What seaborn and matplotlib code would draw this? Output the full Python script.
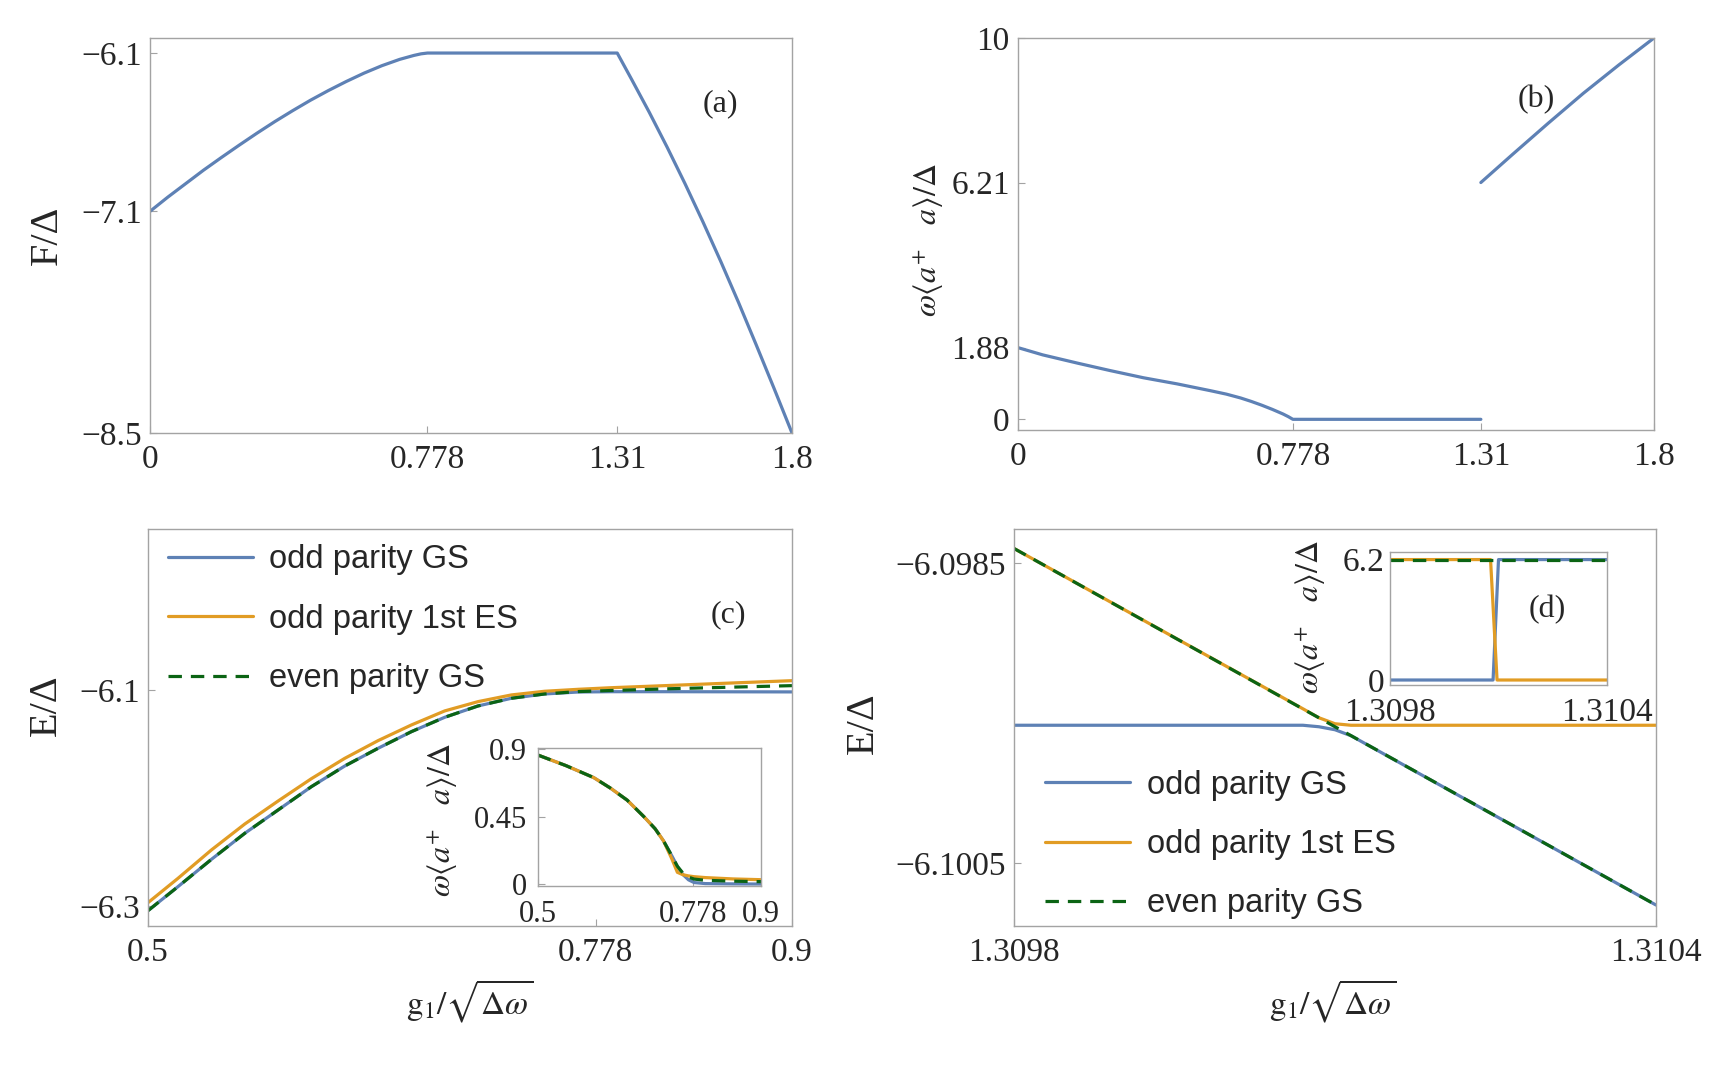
import matplotlib
matplotlib.use("Agg")
import matplotlib.pyplot as plt
import seaborn as sns

# ---- data ----
# (a) free energy
a_x = [0, 0.05, 0.1, 0.15, 0.2, 0.25, 0.3, 0.35, 0.4, 0.45, 0.5, 0.55, 0.6, 0.65, 0.7, 0.74, 0.76, 0.778,
       1.0, 1.31, 1.35, 1.4, 1.45, 1.5, 1.55, 1.6, 1.65, 1.7, 1.75, 1.8]
a_y = [-7.1, -7.01, -6.925, -6.84, -6.76, -6.682, -6.606, -6.533, -6.464, -6.398, -6.337, -6.28, -6.227,
       -6.18, -6.14, -6.115, -6.105, -6.1,
       -6.1, -6.1, -6.265, -6.475, -6.695, -6.925, -7.165, -7.415, -7.675, -7.945, -8.22, -8.5]

# (b) photon number, two branches
b_low_x = [0, 0.07, 0.17, 0.26, 0.355, 0.45, 0.545, 0.59, 0.63, 0.66, 0.69, 0.72, 0.75, 0.765, 0.778,
           1.0, 1.31]
b_low_y = [1.88, 1.69, 1.47, 1.28, 1.09, 0.93, 0.75, 0.66, 0.56, 0.47, 0.37, 0.26, 0.14, 0.07, 0.0,
           0.0, 0.0]
b_high_x = [1.31, 1.4, 1.5, 1.6, 1.7, 1.8]
b_high_y = [6.21, 6.95, 7.76, 8.55, 9.29, 10.0]

# (c) energies
c_x = [0.5, 0.5186, 0.5394, 0.5601, 0.5808, 0.6015, 0.6222, 0.6429, 0.6636, 0.6843, 0.705,
       0.7257, 0.7464, 0.7671, 0.7878, 0.821, 0.86, 0.9]
c_odd_gs = [-6.3043, -6.2821, -6.2568, -6.2327, -6.2111, -6.1895, -6.1704, -6.154, -6.1386, -6.1253,
            -6.1148, -6.1077, -6.1037, -6.1019, -6.1016, -6.1016, -6.1017, -6.1018]
c_odd_es = [-6.2969, -6.2744, -6.2481, -6.2241, -6.2028, -6.1821, -6.1633, -6.1469, -6.1324, -6.1194,
            -6.1108, -6.1046, -6.1012, -6.0994, -6.0979, -6.096, -6.0937, -6.0914]
c_even_gs = [-6.3043, -6.2821, -6.2568, -6.2327, -6.2111, -6.1895, -6.1704, -6.154, -6.1386, -6.1253,
             -6.1148, -6.1077, -6.1037, -6.1015, -6.1005, -6.099, -6.0975, -6.096]

# (c) inset
ci_x = [0.5, 0.55, 0.6, 0.63, 0.66, 0.69, 0.71, 0.725, 0.74, 0.75, 0.76, 0.77, 0.78, 0.8, 0.85, 0.9]
ci_odd_gs = [0.86, 0.79, 0.71, 0.64, 0.56, 0.45, 0.37, 0.29, 0.19, 0.12, 0.065, 0.03, 0.012, 0.005,
             0.003, 0.002]
ci_odd_es = [0.86, 0.79, 0.71, 0.64, 0.56, 0.45, 0.37, 0.29, 0.17, 0.08, 0.064, 0.056, 0.051, 0.045,
             0.036, 0.031]
ci_even_gs = [0.86, 0.79, 0.71, 0.64, 0.56, 0.45, 0.37, 0.29, 0.19, 0.12, 0.075, 0.048, 0.035, 0.027,
              0.021, 0.018]

# (d) energies near the crossing
d_x = [1.3098, 1.31007, 1.310085, 1.3101, 1.310115, 1.3104]
d_odd_gs = [-6.09958, -6.09958, -6.09959, -6.09961, -6.09965, -6.10078]
d_odd_es = [-6.0984, -6.09947, -6.09953, -6.09957, -6.09958, -6.09958]
d_even_x = [1.3098, 1.3101, 1.3104]
d_even_gs = [-6.0984, -6.09959, -6.10078]

# (d) inset
di_gs_x = [1.3098, 1.310085, 1.3101, 1.3104]
di_gs_y = [0, 0, 6.2, 6.2]
di_es_x = [1.3098, 1.310078, 1.310096, 1.3104]
di_es_y = [6.2, 6.2, 0, 0]
di_even_x = [1.3098, 1.3104]
di_even_y = [6.2, 6.2]

legend_labels = ["odd parity GS", "odd parity 1st ES", "even parity GS"]

# ---- style ----
sns.set_theme(style="white")
plt.rcParams["font.family"] = ["Liberation Serif", "DejaVu Serif"]
plt.rcParams["mathtext.fontset"] = "stix"

W, H = 1713, 1069
BLUE = "#5E81B5"
ORANGE = "#E19C24"
GREEN = "#0B6414"
FRAME = "#a3a3a3"
LW = 2.3
DASH = (0, (4.2, 2.8))
TICK_FS = 24
LABEL_FS = 29      # F/Δ, E/Δ
MATH_FS = 23       # mathtext labels
photon_label = r"$\omega\langle a^{+}\quad a\rangle/\Delta$"
g_label = r"$\mathrm{g}_1/\sqrt{\Delta\omega}$"
M = "\u2212"


def make_axes(fig, left, top, right, bottom):
    return fig.add_axes([left / W, 1 - bottom / H, (right - left) / W, (bottom - top) / H])


def style(ax, xlim, ylim, xticks, xlabels, yticks, ylabels, fs=TICK_FS):
    ax.set_facecolor("white")
    for s in ax.spines.values():
        s.set_visible(True)
        s.set_color(FRAME)
        s.set_linewidth(1.0)
    ax.set_xlim(*xlim)
    ax.set_ylim(*ylim)
    ax.set_xticks(xticks, xlabels)
    ax.set_yticks(yticks, ylabels)
    ax.tick_params(direction="in", length=5, width=0.8, color=FRAME, labelsize=fs,
                   bottom=True, left=True, top=False, right=False)
    ax.tick_params(axis="x", pad=8)
    ax.tick_params(axis="y", pad=6)
    ax.grid(False)


def line(ax, x, y, color, label=None, dashed=False):
    kw = dict(linestyle=DASH) if dashed else {}
    sns.lineplot(x=x, y=y, ax=ax, color=color, linewidth=LW, label=label, legend=False, **kw)


fig = plt.figure(figsize=(W / 100, H / 100), dpi=100)

# (a)
ax_a = make_axes(fig, 150, 38, 792, 433)
line(ax_a, a_x, a_y, BLUE)
style(ax_a, (0, 1.8), (-8.5, -6.005), [0, 0.778, 1.31, 1.8], ["0", "0.778", "1.31", "1.8"],
      [-8.5, -7.1, -6.1], [M + "8.5", M + "7.1", M + "6.1"])
ax_a.set_ylabel("F/\u0394", fontsize=LABEL_FS, va="center")
ax_a.yaxis.set_label_coords(-0.16, 0.5)

# (b)
ax_b = make_axes(fig, 1018, 38, 1654, 430)
line(ax_b, b_low_x, b_low_y, BLUE)
line(ax_b, b_high_x, b_high_y, BLUE)
style(ax_b, (0, 1.8), (-0.28, 10), [0, 0.778, 1.31, 1.8], ["0", "0.778", "1.31", "1.8"],
      [0, 1.88, 6.21, 10], ["0", "1.88", "6.21", "10"])
ax_b.set_ylabel(photon_label, fontsize=MATH_FS, va="center")
ax_b.yaxis.set_label_coords(-0.14, 0.485)

# (c)
ax_c = make_axes(fig, 148, 529, 792, 926)
line(ax_c, c_x, c_odd_gs, BLUE, legend_labels[0])
line(ax_c, c_x, c_odd_es, ORANGE, legend_labels[1])
line(ax_c, c_x, c_even_gs, GREEN, legend_labels[2], dashed=True)
style(ax_c, (0.5, 0.9), (-6.3185, -5.951), [0.5, 0.778, 0.9], ["0.5", "0.778", "0.9"],
      [-6.3, -6.1], [M + "6.3", M + "6.1"])
ax_c.set_ylabel("E/\u0394", fontsize=LABEL_FS, va="center")
ax_c.yaxis.set_label_coords(-0.158, 0.555)
ax_c.set_xlabel(g_label, fontsize=MATH_FS + 1, va="center")
ax_c.xaxis.set_label_coords(0.5, -0.19)

# (d)
ax_d = make_axes(fig, 1014, 529, 1656, 926)
line(ax_d, d_x, d_odd_gs, BLUE, legend_labels[0])
line(ax_d, d_x, d_odd_es, ORANGE, legend_labels[1])
line(ax_d, d_even_x, d_even_gs, GREEN, legend_labels[2], dashed=True)
style(ax_d, (1.3098, 1.3104), (-6.10092, -6.09827), [1.3098, 1.3104], ["1.3098", "1.3104"],
      [-6.1005, -6.0985], [M + "6.1005", M + "6.0985"])
ax_d.set_ylabel("E/\u0394", fontsize=LABEL_FS, va="center")
ax_d.yaxis.set_label_coords(-0.235, 0.511)
ax_d.set_xlabel(g_label, fontsize=MATH_FS + 1, va="center")
ax_d.xaxis.set_label_coords(0.497, -0.19)

legend_kw = dict(loc="upper left", frameon=False, borderpad=0, borderaxespad=0,
                 handlelength=2.6, handletextpad=0.5, labelspacing=0.87,
                 prop={"family": "Liberation Sans", "size": 23.5})
ax_c.legend(bbox_to_anchor=(0.031, 0.961), **legend_kw)
ax_d.legend(bbox_to_anchor=(0.049, 0.394), **legend_kw)

# inset of (c)
ax_ci = make_axes(fig, 538, 748, 761, 886)
line(ax_ci, ci_x, ci_odd_gs, BLUE)
line(ax_ci, ci_x, ci_odd_es, ORANGE)
line(ax_ci, ci_x, ci_even_gs, GREEN, dashed=True)
style(ax_ci, (0.5, 0.9), (-0.011, 0.907), [0.5, 0.778, 0.9], ["0.5", "0.778", "0.9"],
      [0, 0.45, 0.9], ["0", "0.45", "0.9"], fs=22)
ax_ci.tick_params(axis="y", pad=8)
ax_ci.tick_params(axis="x", pad=10)
ax_ci.set_ylabel(photon_label, fontsize=MATH_FS, va="center")
ax_ci.yaxis.set_label_coords(-0.43, 0.478)

# inset of (d)
ax_di = make_axes(fig, 1390, 552, 1607, 685)
line(ax_di, di_gs_x, di_gs_y, BLUE)
line(ax_di, di_es_x, di_es_y, ORANGE)
line(ax_di, di_even_x, di_even_y, GREEN, dashed=True)
style(ax_di, (1.3098, 1.3104), (-0.257, 6.59), [1.3098, 1.3104], ["1.3098", "1.3104"],
      [0, 6.2], ["0", "6.2"])
ax_di.tick_params(axis="y", pad=4)
ax_di.tick_params(axis="x", pad=9)
ax_di.set_ylabel(photon_label, fontsize=MATH_FS, va="center")
ax_di.yaxis.set_label_coords(-0.365, 0.51)

# panel letters
for px, py, txt in [(720, 104, "(a)"), (1536, 100, "(b)"), (728, 615, "(c)"), (1547, 610, "(d)")]:
    fig.text(px / W, 1 - py / H, txt, ha="center", va="center", fontsize=23)

fig.savefig("out.png", dpi=100, facecolor="white")
